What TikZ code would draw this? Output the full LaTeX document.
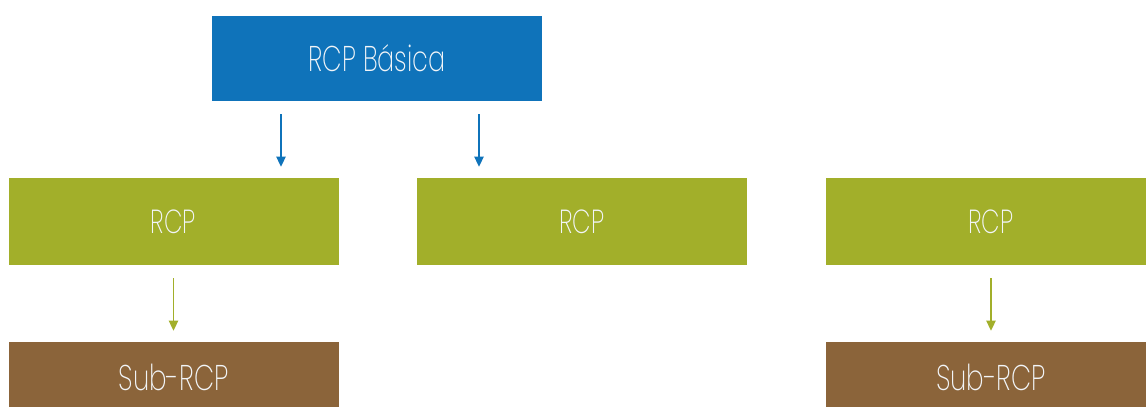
\documentclass[tikz,border=0pt]{standalone}
\usepackage{fontspec}
\setmainfont{Poppins}[UprightFont=* ExtraLight]
\usetikzlibrary{arrows.meta}
\definecolor{cblue}{HTML}{0F73BA}
\definecolor{cgreen}{HTML}{A2AF2A}
\definecolor{cbrown}{HTML}{8B643A}
\definecolor{ctext}{HTML}{F2F5F8}
\tikzset{
  box/.style={rectangle, inner sep=0pt, text=ctext, text depth=0pt},
  bluebox/.style={box, fill=cblue, minimum width=330*0.75pt, minimum height=85*0.75pt, text height=19.5pt},
  greenbox/.style={box, fill=cgreen, minimum width=330*0.75pt, minimum height=87*0.75pt, text height=18pt},
  brownbox/.style={box, fill=cbrown, minimum width=330*0.75pt, minimum height=65*0.75pt, text height=24pt},
  arr/.style={line width=0.9pt, -{Triangle[length=7.5pt,width=7pt]}, shorten <=9.75pt, shorten >=8.25pt},
}
\newcommand{\txt}[3]{\fontsize{#1}{#1}\selectfont\scalebox{#2}[1]{#3}}
\begin{document}
\begin{tikzpicture}[x=0.75pt,y=0.75pt]
\useasboundingbox (0,0) rectangle (1146,407);
\clip (0,0) rectangle (1146,407);
\node[bluebox] (top) at (377,348.5) {\txt{26.8}{0.71}{RCP Básica}};
\node[greenbox] (gl) at (173.5,185.5) {\txt{25}{0.72}{RCP}};
\node[greenbox] (gm) at (582,185.5) {\txt{25}{0.72}{RCP}};
\node[greenbox] (gr) at (991,185.5) {\txt{25}{0.72}{RCP}};
\node[brownbox] (bl) at (173.5,32.5) {\txt{26.8}{0.73}{Sub-RCP}};
\node[brownbox] (br) at (991,32.5) {\txt{26.8}{0.73}{Sub-RCP}};
\draw[arr, cblue] ([xshift=-96*0.75pt]top.south) -- ([xshift=-96*0.75pt]top.south |- gl.north);
\draw[arr, cblue] ([xshift=102*0.75pt]top.south) -- ([xshift=102*0.75pt]top.south |- gm.north);
\draw[arr, cgreen] (gl.south) -- (bl.north);
\draw[arr, cgreen] (gr.south) -- (br.north);
\end{tikzpicture}
\end{document}
